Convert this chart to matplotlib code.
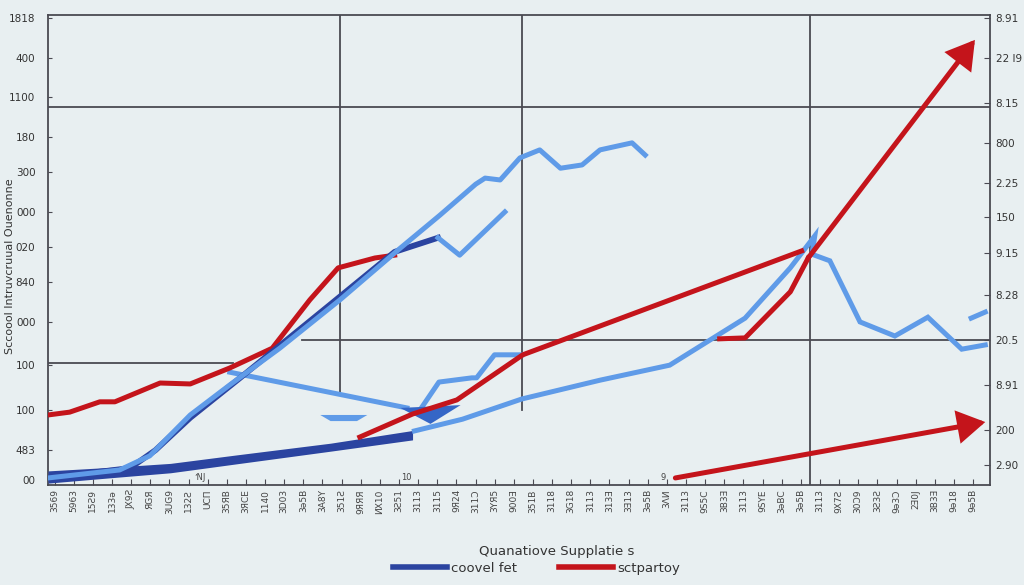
import numpy as np
import matplotlib
matplotlib.use("Agg")
import matplotlib.pyplot as plt
from matplotlib.lines import Line2D

# colours
BG = "#e8eff1"
RED = "#c4141b"
DBLUE = "#2b44a0"
LBLUE = "#5f9be8"
GRID = "#4a4a52"

# --- data (axis units 0..100) ---
red_main_x = [0, 2.3, 5.5, 7.1, 11.9, 15.1, 19.3, 23.8, 27.8, 30.8, 34.7, 36.8]
red_main_y = [14.9, 15.5, 17.7, 17.7, 21.7, 21.5, 24.9, 29.1, 39.4, 46.2, 48.3, 48.9]

red_mid_x = [33.1, 38.7, 43.4, 50.4, 80.0]
red_mid_y = [10.2, 15.1, 18.1, 27.7, 49.8]

red_up_x = [71.3, 74.0, 78.8, 80.7]
red_up_y = [31.1, 31.3, 41.1, 48.3]
red_up_arrow = (98.4, 94.7)

red_low_start = (66.6, 1.5)
red_low_end = (99.5, 13.4)

blue_top_x = [0, 7.6, 10.8, 15.1, 19.3, 24.6, 31.0, 37.4, 41.6, 45.4, 46.4, 48.0,
              50.1, 52.2, 54.4, 56.7, 58.6, 62.0, 63.4]
blue_top_y = [1.5, 3.2, 6.2, 14.9, 21.3, 29.1, 39.4, 50.4, 57.4, 64.0, 65.3, 64.9,
              69.6, 71.3, 67.4, 68.1, 71.3, 72.8, 70.2]

blue_branch_x = [41.4, 43.7, 48.5]
blue_branch_y = [52.6, 48.9, 58.1]

dblue_x = [0, 8.7, 11.4, 15.1, 20.4, 29.9, 36.8, 41.4]
dblue_y = [1.5, 3.6, 7.4, 14.3, 22.8, 38.3, 49.6, 52.6]

blue_drop_x = [19.3, 38.1]
blue_drop_y = [24.0, 16.4]

blue_step_x = [39.5, 41.5, 45.0, 45.5, 47.4, 50.3]
blue_step_y = [16.0, 21.9, 22.8, 22.8, 27.7, 27.7]

blue_right_x = [38.9, 44.0, 50.3, 58.6, 66.0, 74.0, 78.8, 81.4, 81.1, 83.0, 86.2,
                89.9, 93.4, 97.0, 99.5]
blue_right_y = [11.5, 14.0, 18.3, 22.3, 25.5, 35.5, 46.2, 53.0, 49.1, 47.7, 34.7,
                31.7, 35.7, 28.9, 29.8]

blue_stub_x = [98.0, 99.5]
blue_stub_y = [35.5, 36.8]

band_x = [0, 7.0, 13.0, 20.0, 30.0, 38.7]
band_lo = [0.4, 1.6, 2.6, 4.5, 7.2, 9.6]
band_hi = [3.0, 3.8, 4.6, 6.4, 8.9, 11.6]

# grid segments: (x0, x1, y) and (x, y0, y1)
hlines = [(0, 100, 80.4), (27, 100, 30.9), (0, 19.6, 25.9)]
vlines = [(31.0, 19.6, 100), (50.3, 16.0, 100), (80.9, 0, 100)]

left_ticks = [99.4, 90.9, 82.6, 74.0, 66.6, 58.1, 50.6, 43.2, 34.7, 25.5, 16.0, 7.4, 1.1]
left_labels = ["1818", "400", "1100", "180", "300", "000", "020", "840", "000",
               "100", "100", "483", "00"]

right_ticks = [99.4, 90.9, 81.3, 72.8, 64.3, 57.0, 49.4, 40.4, 30.9, 21.3, 11.7, 4.3]
right_labels = ["8.91", "22 l9", "8.15", "800", "2.25", "150", "9.15", "8.28",
                "20.5", "8.91", "200", "2.90"]

x_labels = ["3569", "5963", "15Ƨ9", "133ǝ", "JX9Ƨ", "ЯGЯ", "3UG9", "132Ƨ", "UCΠ",
            "35ЯB", "3ЯCE", "1140", "3D03", "3ǝ5B", "3A8Y", "351Ƨ", "9ЯЯЯ", "ИX10",
            "3Ƨ51", "3113", "3115", "9Я24", "311Ɔ", "3YЯ5", "900Ǝ", "351B", "3118",
            "3G18", "3113", "313Ǝ", "3Ǝ13", "3ǝ5B", "3ΛИ", "3113", "9S5C", "3B3Ǝ",
            "3113", "9SYE", "3ǝBC", "3ǝ5B", "3113", "9X7Ƨ", "30Ɔ9", "3Ƨ3Ƨ", "9ǝ3Ɔ",
            "2Ǝ0J", "3B3Ǝ", "9ǝ18", "9ǝ5B"]

fig = plt.figure(figsize=(10.24, 5.85), dpi=100, facecolor=BG)
ax = fig.add_axes([48 / 1024, 100 / 585, 942 / 1024, 470 / 585])
ax.set_facecolor(BG)
ax.set_xlim(0, 100)
ax.set_ylim(0, 100)

for x0, x1, y in hlines:
    ax.plot([x0, x1], [y, y], color=GRID, lw=1.3, zorder=1)
for x, y0, y1 in vlines:
    ax.plot([x, x], [y0, y1], color=GRID, lw=1.3, zorder=1)

# dark blue band at the bottom
ax.fill_between(band_x, band_lo, band_hi, color=DBLUE, lw=0, zorder=3)

lw = 3.6
ax.plot(blue_drop_x, blue_drop_y, color=LBLUE, lw=lw, zorder=3)
ax.plot(blue_step_x, blue_step_y, color=LBLUE, lw=lw, zorder=3)
ax.plot(blue_right_x, blue_right_y, color=LBLUE, lw=lw, zorder=3, solid_joinstyle="miter")
ax.plot(blue_stub_x, blue_stub_y, color=LBLUE, lw=lw, zorder=3)
ax.fill([28.9, 33.9, 32.8, 30.0], [14.9, 14.9, 13.6, 13.6], color=LBLUE, lw=0, zorder=3)
ax.fill([37.4, 43.8, 40.6], [16.4, 17.0, 13.0], color="#3566c6", lw=0, zorder=4)

arrow = dict(arrowstyle="-|>,head_length=0.5,head_width=0.3", color=RED, lw=lw,
             mutation_scale=30, shrinkA=0, shrinkB=0, joinstyle="miter")
ax.plot(red_mid_x, red_mid_y, color=RED, lw=lw, zorder=5)
ax.plot(red_up_x, red_up_y, color=RED, lw=lw, zorder=5)
ax.annotate("", xy=red_up_arrow, xytext=(red_up_x[-1], red_up_y[-1]),
            arrowprops=arrow, zorder=5)
ax.annotate("", xy=red_low_end, xytext=red_low_start, arrowprops=arrow, zorder=5)
ax.plot(red_main_x, red_main_y, color=RED, lw=lw, zorder=5)

ax.plot(dblue_x, dblue_y, color=DBLUE, lw=lw + 0.6, zorder=6)
ax.plot(blue_top_x, blue_top_y, color=LBLUE, lw=lw, zorder=7)
ax.plot(blue_branch_x, blue_branch_y, color=LBLUE, lw=lw, zorder=7)

# small stray numbers inside
ax.text(37.5, 1.0, "10", fontsize=6, color="#444")
ax.text(65.0, 1.0, "9", fontsize=6, color="#444")
ax.text(15.5, 1.0, "ʼNJ", fontsize=6, color="#444")

# spines
for s in ["left", "bottom", "top"]:
    ax.spines[s].set_color(GRID)
    ax.spines[s].set_linewidth(1.3)
ax.spines["right"].set_visible(False)

ax.set_yticks(left_ticks)
ax.set_yticklabels(left_labels, fontsize=7.5, color="#333")
ax.tick_params(axis="y", direction="in", length=3, color=GRID, pad=9)

xt = np.linspace(0.7, 98.2, len(x_labels))
ax.set_xticks(xt)
ax.set_xticklabels(x_labels, rotation=90, fontsize=6.5, color="#444")
ax.tick_params(axis="x", direction="in", length=4, color=GRID, pad=3)

ax2 = ax.twinx()
ax2.set_ylim(0, 100)
ax2.set_yticks(right_ticks)
ax2.set_yticklabels(right_labels, fontsize=7.5, color="#333")
ax2.tick_params(axis="y", direction="in", length=4, color=GRID, pad=4)
for s in ["left", "bottom", "top"]:
    ax2.spines[s].set_visible(False)
ax2.spines["right"].set_color(GRID)
ax2.spines["right"].set_linewidth(1.3)

fig.text(0.010, 0.545, "Sccoool Intruvcruual Ouenonne", rotation=90, fontsize=8,
         color="#333", va="center", ha="center")
fig.text(0.544, 0.058, "Quanatiove Supplatie s", fontsize=9.5, color="#333",
         ha="center", va="center")

handles = [Line2D([], [], color=DBLUE, lw=4), Line2D([], [], color=RED, lw=4)]
fig.legend(handles, ["coovel fet", "sctpartoy"], loc="center",
           bbox_to_anchor=(0.524, 0.029), ncol=2, frameon=False, fontsize=9.5,
           handlelength=4.1, columnspacing=3.2, handletextpad=0.3,
           labelcolor="#333")

fig.savefig("out.png", dpi=100, facecolor=BG)
